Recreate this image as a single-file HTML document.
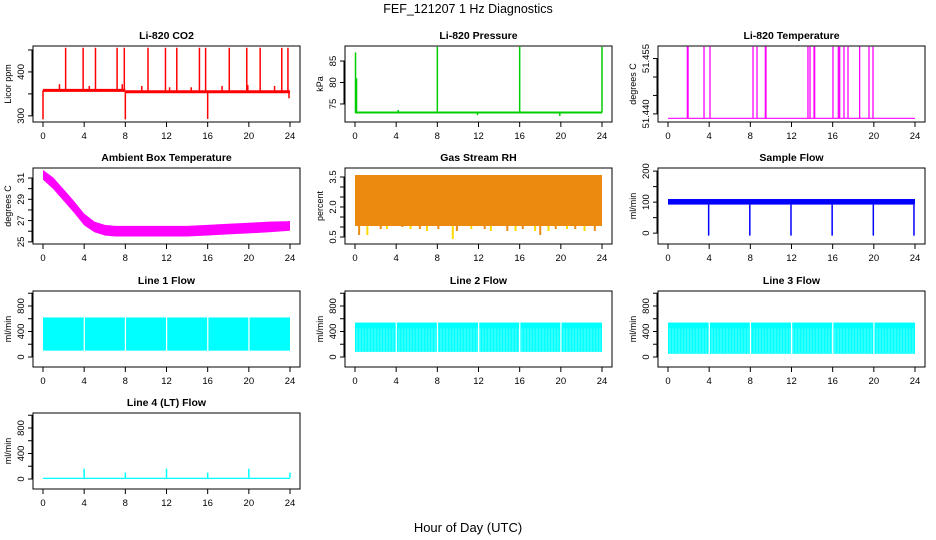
<!DOCTYPE html>
<html><head><meta charset="utf-8">
<style>
html,body{margin:0;padding:0;background:#fff;}
svg{display:block;font-family:"Liberation Sans",Arial,sans-serif;}
</style></head>
<body>
<svg id="chart" width="936" height="540" viewBox="0 0 936 540">
<text x="468" y="13" text-anchor="middle" font-size="12.5">FEF_121207  1 Hz Diagnostics</text>
<text x="468" y="532" text-anchor="middle" font-size="13">Hour of Day (UTC)</text>
</svg>
<script>
// ---- data ----
const hourTicks = [0,4,8,12,16,20,24];
const co2Base = [[0,8,358],[8,24,355]];
const co2SpikeHours = [0.0,2.2,3.9,5.1,7.2,7.9,8.0,10.2,11.9,13.0,15.2,15.8,16.0,18.1,19.8,21.1,23.2,23.8,1.6,4.5,7.7,9.6,12.3,14.4,17.4,19.9,22.5,23.9];
const co2SpikeVals  = [292,455,455,455,455,455,292,455,455,455,455,455,293,455,455,455,455,455,372,368,372,368,365,365,368,370,368,340];
const presBase = 73;
const presSpikeHours = [0.05,0.15,8.0,16.0,24.0,4.2,11.9,19.9];
const presSpikeVals = [87,81,88.3,88.3,88.3,73.6,72.4,72.2];
const tempBase = 51.4388;
const tempSpikeHours = [1.88,1.95,3.5,4.08,8.26,8.65,9.46,9.52,13.6,13.8,14.19,14.25,16.03,16.55,16.68,17.1,17.49,18.62,19.53,19.92];
const tempSpikeTop = 51.4582;
const ambHours = [0,1,2,3,4,5,6,7,8,10,12,14,16,18,20,22,24];
const ambMid   = [31.3,30.5,29.4,28.3,27.1,26.4,26.1,26.0,26.0,26.0,26.0,26.0,26.1,26.2,26.3,26.4,26.5];
const ambHalfWidth = [0.45,0.55,0.55,0.55,0.55,0.5,0.5,0.5,0.5,0.5,0.5,0.5,0.5,0.5,0.5,0.5,0.45];
const rhTop = 3.6;
const rhBottom = 1.05;
const rhDipHours = [0.4,1.2,2.5,3.1,4.6,5.4,6.3,7.0,8.1,9.5,9.9,11.3,12.6,13.2,14.8,15.6,16.3,17.5,18.0,18.8,19.5,20.6,21.4,22.3,23.3];
const rhDipVals  = [0.6,0.6,0.9,0.9,1.0,0.9,0.9,0.8,0.9,0.4,0.8,0.9,0.9,0.8,0.8,0.8,0.9,0.8,0.6,0.8,0.9,0.9,0.9,0.8,0.8];
const sfLow = 92, sfHigh = 110;
const sfDipHours = [3.95,7.95,11.95,15.95,19.95,23.9];
const sfDipVals = [-8,-8,-8,-8,-8,-8];
const flowGapHours = [3.95,7.95,11.95,15.95,19.95];
const line1Low = 100, line1High = 620;
const line2Low = 80, line2High = 540;
const line3Low = 50, line3High = 540;
const line4Base = 20;
const line4SpikeHours = [4.0,8.0,12.0,16.0,20.0,24.0];
const line4SpikeVals = [160,100,160,100,160,100];

const NS = "http://www.w3.org/2000/svg";
const svg = document.getElementById('chart');
function el(tag, attrs, parent){
  const e = document.createElementNS(NS, tag);
  for (const k in attrs) e.setAttribute(k, attrs[k]);
  (parent||svg).appendChild(e);
  return e;
}
const colX = [33,345,658], rowY = [46,168,291,413], W = 267, H = 76;

function panel(c, r, name, title, ylab, ymin, ymax, yticks, ylabels){
  const bx = colX[c], by = rowY[r];
  const g = el('g', {});
  
  
  const xs = h => bx + 10 + h * (247/24);
  const ys = v => by + H - (v - ymin) / (ymax - ymin) * H;
  const t = el('text', {x: bx + W/2, y: by - 7, 'text-anchor':'middle', 'font-size':10.5, 'font-weight':'bold'}, g);
  t.textContent = title;
  
  
  const plot = el('g', {}, g);
  
  
  const box = el('rect', {x:bx, y:by, width:W, height:H, fill:'none', stroke:'#000', 'stroke-width':1}, g);
  
  
  const xa = el('g', {}, g);
  
  
  el('line', {x1:xs(0), x2:xs(24), y1:by+H, y2:by+H, stroke:'#000'}, xa);
  hourTicks.forEach(h => {
    el('line', {x1:xs(h), x2:xs(h), y1:by+H, y2:by+H+5, stroke:'#000'}, xa);
    const tl = el('text', {x:xs(h), y:by+H+17, 'text-anchor':'middle', 'font-size':9.5}, xa);
    tl.textContent = h;
  });
  const ya = el('g', {}, g);
  
  
  yticks.forEach(v => el('line', {x1:bx-5, x2:bx, y1:ys(v), y2:ys(v), stroke:'#000'}, ya));
  el('line', {x1:bx-1, x2:bx-1, y1:ys(yticks[0]), y2:ys(yticks[yticks.length-1]), stroke:'#000'}, ya);
  ylabels.forEach(v => {
    const tl = el('text', {x:bx-9, y:ys(v), 'text-anchor':'middle', 'font-size':9.5, transform:`rotate(-90 ${bx-9} ${ys(v)})`}, ya);
    tl.textContent = v;
  });
  const yl = el('text', {x:bx-22, y:by+H/2, 'text-anchor':'middle', 'font-size':9, transform:`rotate(-90 ${bx-22} ${by+H/2})`}, g);
  yl.textContent = ylab;
  
  
  return {xs, ys, plot};
}
function vline(p, h, v1, v2, color, w){
  el('line', {x1:p.xs(h), x2:p.xs(h), y1:p.ys(v1), y2:p.ys(v2), stroke:color, 'stroke-width':w||1}, p.plot);
}
function band(p, lo, hi, color, gaps, striped){
  let edges = [0].concat(gaps||[]).concat([24]);
  for (let i=0;i<edges.length-1;i++){
    const a = edges[i] + (i>0?0.12:0), b = edges[i+1];
    el('rect', {x:p.xs(a), y:p.ys(hi), width:Math.max(0,p.xs(b)-p.xs(a)), height:p.ys(lo)-p.ys(hi), fill:color}, p.plot);
  }
  if (striped){
    for (let x=p.xs(0)+2; x<p.xs(24); x+=3){
      el('line',{x1:x,x2:x,y1:p.ys(hi)+6,y2:p.ys(lo),stroke:'#fff','stroke-width':0.6,'stroke-opacity':0.6},p.plot);
    }
  }
}

// CO2
let p = panel(0,0,'co2','Li-820 CO2','Licor ppm',286,459,[300,350,400,450],[300,400]);
co2Base.forEach(s => el('line',{x1:p.xs(s[0]),x2:p.xs(s[1]),y1:p.ys(s[2]),y2:p.ys(s[2]),stroke:'#f00','stroke-width':3},p.plot));
co2SpikeHours.forEach((h,i)=>vline(p,h,h<8?358:355,co2SpikeVals[i],'#f00',1.5));

// Pressure
p = panel(1,0,'pressure','Li-820 Pressure','kPa',70.8,88.5,[75,80,85],[75,80,85]);
el('line',{x1:p.xs(0),x2:p.xs(24),y1:p.ys(presBase),y2:p.ys(presBase),stroke:'#00cd00','stroke-width':2},p.plot);
presSpikeHours.forEach((h,i)=>vline(p,h,presBase,presSpikeVals[i],'#00cd00',1.5));

// Temperature
p = panel(2,0,'licor-temp','Li-820 Temperature','degrees C',51.4378,51.4584,[51.440,51.445,51.450,51.455],['51.440','51.455']);
el('line',{x1:p.xs(0),x2:p.xs(24),y1:p.ys(tempBase),y2:p.ys(tempBase),stroke:'#f0f','stroke-width':1.2},p.plot);
tempSpikeHours.forEach(h=>vline(p,h,tempBase,tempSpikeTop,'#f0f',1.3));

// Ambient
p = panel(0,1,'ambient-temp','Ambient Box Temperature','degrees C',24.8,31.94,[25,26,27,28,29,30,31],[25,27,29,31]);
{
  let pts = ambHours.map((h,i)=>p.xs(h)+','+p.ys(ambMid[i]+ambHalfWidth[i]));
  for (let i=ambHours.length-1;i>=0;i--) pts.push(p.xs(ambHours[i])+','+p.ys(ambMid[i]-ambHalfWidth[i]));
  el('polygon',{points:pts.join(' '),fill:'#f0f'},p.plot);
}

// RH
p = panel(1,1,'gas-rh','Gas Stream RH','percent',0.15,3.95,[0.5,1,1.5,2,2.5,3,3.5],['0.5','2.0','3.5']);
el('rect',{x:p.xs(0),y:p.ys(rhTop),width:p.xs(24)-p.xs(0),height:p.ys(rhBottom)-p.ys(rhTop),fill:'#ec8a10'},p.plot);
rhDipHours.forEach((h,i)=>vline(p,h,rhBottom,rhDipVals[i],i%2?'#ffd800':'#ec8a10',2));

// Sample flow
p = panel(2,1,'sample-flow','Sample Flow','ml/min',-35,210,[0,50,100,150,200],[0,100,200]);
el('rect',{x:p.xs(0),y:p.ys(sfHigh),width:p.xs(24)-p.xs(0),height:p.ys(sfLow)-p.ys(sfHigh),fill:'#00f'},p.plot);
sfDipHours.forEach((h,i)=>vline(p,h,sfLow,sfDipVals[i],'#00f',1.5));

// Line flows
const fT = [0,200,400,600,800,1000], fL = [0,400,800];
p = panel(0,2,'line1-flow','Line 1 Flow','ml/min',-157,1035,fT,fL); band(p,line1Low,line1High,'#0ff',flowGapHours,false);
p = panel(1,2,'line2-flow','Line 2 Flow','ml/min',-157,1035,fT,fL); band(p,line2Low,line2High,'#0ff',flowGapHours,true);
p = panel(2,2,'line3-flow','Line 3 Flow','ml/min',-157,1035,fT,fL); band(p,line3Low,line3High,'#0ff',flowGapHours,true);
p = panel(0,3,'line4-flow','Line 4 (LT) Flow','ml/min',-157,1035,fT,fL);
el('rect',{x:p.xs(0),y:p.ys(line4Base),width:p.xs(24)-p.xs(0),height:p.ys(0)-p.ys(line4Base),fill:'#0ff'},p.plot);
line4SpikeHours.forEach((h,i)=>vline(p,h,line4Base,line4SpikeVals[i],'#0ff',1.5));
</script>
</body></html>
